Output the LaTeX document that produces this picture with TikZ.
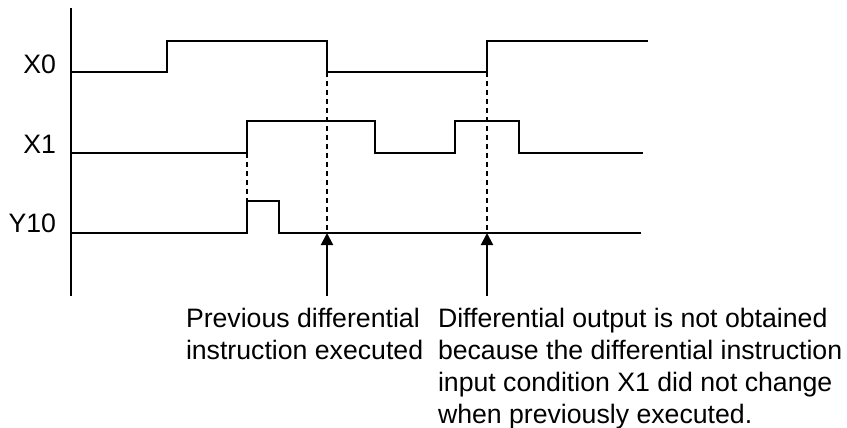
\documentclass[tikz,border=0pt]{standalone}
\usepackage{fontspec}
\setmainfont{Liberation Sans}
\usetikzlibrary{arrows.meta}
\definecolor{wave}{HTML}{000000}

\begin{document}
\begin{tikzpicture}[
    x=0.75pt, y=-0.75pt,
    line width=1.5pt,
    every node/.style={font=\fontsize{20}{24}\selectfont, inner sep=0pt},
    signal/.style={draw=wave, line width=1.5pt, line join=miter},
    guide/.style={draw=wave, line width=1.4pt, dash pattern=on 3.75pt off 3pt},
    pointer/.style={draw=wave, line width=1.5pt, -{Triangle[width=9pt,length=9pt]}},
  ]
  \useasboundingbox (0,0) rectangle (847,428);

  % ---------- Time axis ---------------------------------------------------
  \draw[signal] (71,8) -- (71,296);

  % ---------- Signal names ------------------------------------------------
  \node[anchor=base east] (lblXzero) at (57,74) {X0};
  \node[anchor=base east] (lblXone) at (57,153) {X1};
  \node[anchor=base east] (lblYten) at (57,233) {Y10};

  % ---------- Waveforms (low / high levels) -------------------------------
  % X0: low 72, high 41
  \draw[signal] (71,72) -- (167,72) -- (167,41) -- (327,41) -- (327,72)
    -- (487,72) -- (487,41) -- (648,41);
  % X1: low 153, high 121
  \draw[signal] (71,153) -- (247,153) -- (247,121) -- (375,121) -- (375,153)
    -- (455,153) -- (455,121) -- (519,121) -- (519,153) -- (643,153);
  % Y10: low 233, high 201, one short pulse
  \draw[signal] (71,233) -- (247,233) -- (247,201) -- (279,201) -- (279,233)
    -- (641,233);

  % ---------- Edge guides -------------------------------------------------
  \draw[guide] (247,153) -- (247,201);
  \draw[guide] (327,72) -- (327,233);
  \draw[guide] (487,72) -- (487,233);

  % ---------- Pointers to the Y10 line ------------------------------------
  \coordinate (tipA) at (327,233);
  \coordinate (tipB) at (487,233);
  \coordinate (tailA) at (327,296);
  \coordinate (tailB) at (487,296);
  \draw[pointer] (tailA) -- (tipA);
  \draw[pointer] (tailB) -- (tipB);

  % ---------- Notes (base = last line; first baseline at 327) -------------
  \node[anchor=base west, align=left] (noteA) at (185,359)
    {Previous differential\\instruction executed};
  \node[anchor=base west, align=left] (noteB) at (437,423)
    {Differential output is not obtained\\because the differential instruction\\
     input condition X1 did not change\\when previously executed.};

\end{tikzpicture}
\end{document}
